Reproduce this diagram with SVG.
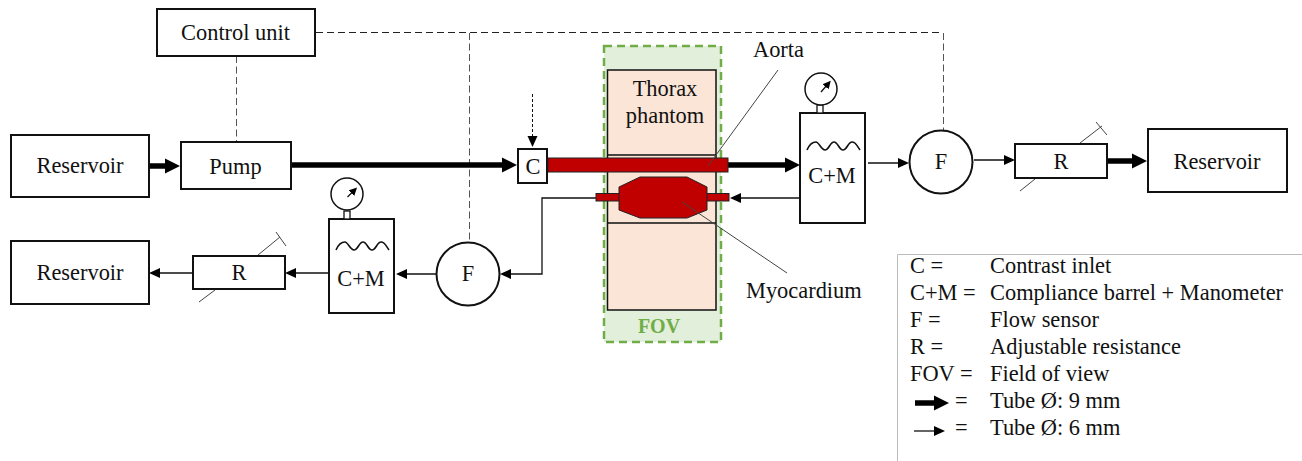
<svg xmlns="http://www.w3.org/2000/svg" width="1302" height="461" viewBox="0 0 1302 461">
<defs>
<marker id="ah" markerUnits="userSpaceOnUse" markerWidth="12" markerHeight="12" refX="5" refY="6" orient="auto"><path d="M0 1L11 6L0 11Z" fill="#000"/></marker>
<marker id="ahb" markerUnits="userSpaceOnUse" markerWidth="16" markerHeight="16" refX="6" refY="8" orient="auto"><path d="M0 0.500L15 8L0 15.500Z" fill="#000"/></marker>
<marker id="ahs" markerUnits="userSpaceOnUse" markerWidth="9" markerHeight="9" refX="3" refY="4.500" orient="auto"><path d="M0 0.500L8 4.500L0 8.500Z" fill="#000"/></marker>
</defs>
<style>
text{font-family:"Liberation Serif","Times New Roman",serif;font-size:22.400px;fill:#111}
.m{text-anchor:middle}
.b{fill:#fff;stroke:#111;stroke-width:2}
.t{fill:none;stroke:#111;stroke-width:1.300}
.k{fill:none;stroke:#000;stroke-width:5.500}
.d{fill:none;stroke:#555;stroke-width:1;stroke-dasharray:7 3.500}
.g{fill:none;stroke:#444;stroke-width:1}
.w{fill:none;stroke:#111;stroke-width:1.600}
.r{fill:#c00000;stroke:#222;stroke-width:1}
</style>
<rect width="1302" height="461" fill="#fff"/>
<g id="fov"><rect x="604" y="46" width="117" height="296" fill="#e2efda" stroke="#70ad47" stroke-width="2.500" stroke-dasharray="8 5"/><text x="659" y="333" class="m" style="font-size:20px;font-weight:bold;fill:#70ad47">FOV</text></g>
<g id="thorax"><rect x="607.500" y="70" width="108.500" height="240" fill="#fbe5d6" stroke="#111" stroke-width="1.500"/><path d="M608 155H716M608 223H716" stroke="#111" stroke-width="1.300"/><text x="665" y="96" class="m">Thorax</text><text x="665" y="123" class="m">phantom</text></g>
<g id="connectors">
<path class="d" d="M236.500 56V142M469.500 33V243M943.500 33V130"/>
<path d="M316 32.500H943" fill="none" stroke="#222" stroke-width="1" stroke-dasharray="7 4"/>
<path d="M532.500 94V141" fill="none" stroke="#111" stroke-width="1" stroke-dasharray="3 2" marker-end="url(#ah)"/>
<path class="k" d="M149 166H171" marker-end="url(#ahb)"/>
<path class="k" d="M291 165H508" marker-end="url(#ahb)"/>
<path class="k" d="M728 165H791" marker-end="url(#ahb)"/>
<path class="k" d="M1107 161H1138" marker-end="url(#ahb)"/>
<path class="t" d="M800 198H736" marker-end="url(#ah)"/>
<path class="t" d="M596 198H542V274H506" marker-end="url(#ah)"/>
<path class="t" d="M868 163H903" marker-end="url(#ah)"/>
<path class="t" d="M974 160H1009" marker-end="url(#ah)"/>
<path class="t" d="M436 274H402" marker-end="url(#ah)"/>
<path class="t" d="M329 273H291" marker-end="url(#ah)"/>
<path class="t" d="M193 273H155" marker-end="url(#ah)"/>
</g>
<g id="reservoir1"><rect class="b" x="11" y="135" width="138" height="62"/><text x="80" y="173" class="m">Reservoir</text></g>
<g id="control"><rect class="b" x="157" y="9" width="158" height="47"/><text x="235.500" y="40" class="m">Control unit</text></g>
<g id="pump"><rect class="b" x="181" y="142" width="110" height="47"/><text x="235.500" y="174" class="m">Pump</text></g>
<g id="c"><rect class="b" x="518" y="149" width="29" height="34"/><text x="533" y="174" class="m">C</text></g>
<g id="aorta"><rect class="r" x="548" y="158" width="180" height="14"/></g>
<g id="myocardium"><rect class="r" x="596" y="193.500" width="133" height="7.500"/><path class="r" d="M619 187L640 177H687L707 187V210L687 218H640L619 210Z"/></g>
<g id="cm1"><rect class="b" x="800" y="113" width="65" height="110"/><path class="w" d="M807 150C810 143 813 142 816 142S821 150 825 150S830 142 834 142S839 150 843 150S848 142 852 142S857 146 860 150"/><text x="832" y="183" class="m">C+M</text>
<rect x="817" y="105" width="6" height="8" fill="#fff" stroke="#111" stroke-width="1.300"/><circle cx="821" cy="89" r="16" fill="#fff" stroke="#111" stroke-width="1.500"/><path d="M821 92L827.500 84.500" stroke="#111" stroke-width="1.300" marker-end="url(#ahs)" fill="none"/></g>
<g id="f1"><circle class="b" cx="941" cy="162" r="31.500"/><text x="941" y="169" class="m">F</text></g>
<g id="r1"><rect class="b" x="1015" y="144" width="92" height="34"/><text x="1061" y="169" class="m">R</text><path class="g" d="M1080 143L1102 126M1096 122L1107 135M1020 191L1035 179"/></g>
<g id="reservoir2"><rect class="b" x="1148" y="129" width="139" height="63"/><text x="1217" y="169" class="m">Reservoir</text></g>
<g id="cm2"><rect class="b" x="329" y="219" width="65" height="94"/><path class="w" d="M336 250C339 243 342 242 345 242S350 250 354 250S359 242 363 242S368 250 372 250S377 242 381 242S386 246 389 250"/><text x="361" y="286" class="m">C+M</text>
<rect x="344" y="211" width="6" height="8" fill="#fff" stroke="#111" stroke-width="1.300"/><circle cx="347" cy="194" r="16" fill="#fff" stroke="#111" stroke-width="1.500"/><path d="M347.500 197L353.500 191" stroke="#111" stroke-width="1.300" marker-end="url(#ahs)" fill="none"/></g>
<g id="f2"><circle class="b" cx="468" cy="274" r="31.500"/><text x="468" y="281" class="m">F</text></g>
<g id="r2"><rect class="b" x="193" y="256" width="92" height="33"/><text x="239" y="280" class="m">R</text><path class="g" d="M258 255L280 237M276 232L286 246M199 302L215 290"/></g>
<g id="reservoir3"><rect class="b" x="11" y="241" width="138" height="63"/><text x="80" y="280" class="m">Reservoir</text></g>
<g id="labels"><text x="753" y="57">Aorta</text><path class="g" d="M778 70L708 166"/><text x="746" y="298">Myocardium</text><path class="g" d="M682 202L787 273"/></g>
<g id="legend">
<path d="M1302 254.500H897.500V461" fill="none" stroke="#bbb" stroke-width="1"/>
<text x="910" y="273">C =</text><text x="990" y="273">Contrast inlet</text>
<text x="910" y="300">C+M =</text><text x="990" y="300">Compliance barrel + Manometer</text>
<text x="910" y="327">F =</text><text x="990" y="327">Flow sensor</text>
<text x="910" y="354">R =</text><text x="990" y="354">Adjustable resistance</text>
<text x="910" y="381">FOV =</text><text x="990" y="381">Field of view</text>
<path class="k" d="M915 403H940" marker-end="url(#ahb)"/><text x="955" y="408">=</text><text x="990" y="408">Tube Ø: 9 mm</text>
<path class="t" d="M914 431H939" marker-end="url(#ah)"/><text x="955" y="435">=</text><text x="990" y="435">Tube Ø: 6 mm</text>
</g>
</svg>
